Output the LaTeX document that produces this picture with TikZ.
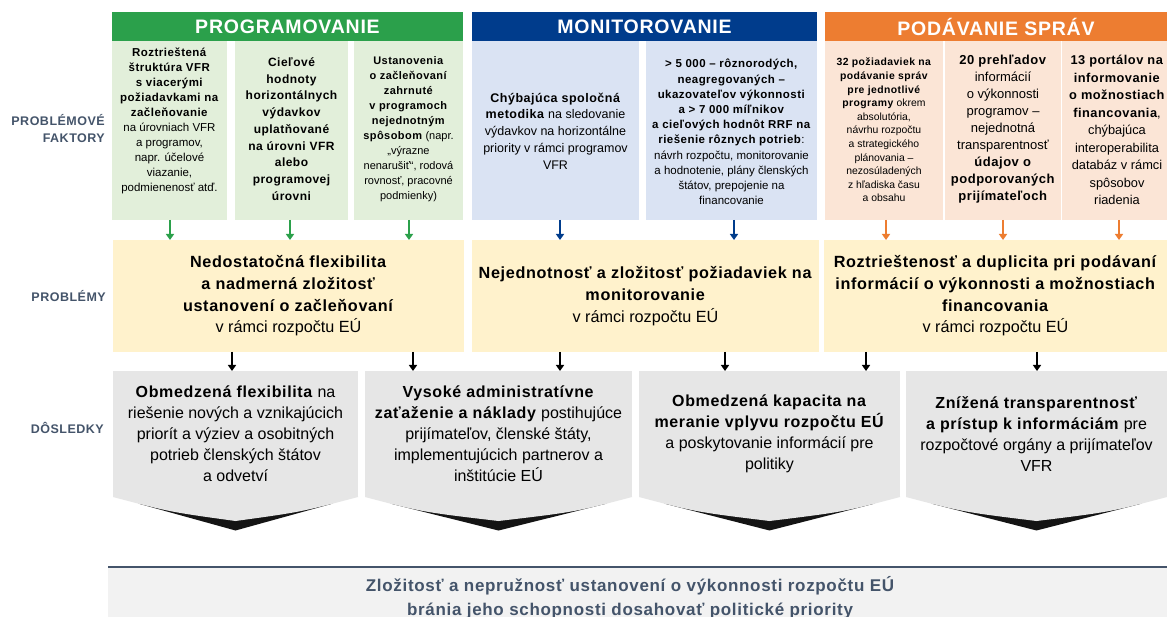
\documentclass[tikz,border=0pt]{standalone}
\usepackage{fontspec}
\setmainfont{Liberation Sans}[BoldFeatures={LetterSpace=4}]
\usetikzlibrary{arrows.meta}
\definecolor{hgreen}{HTML}{2BA04B}
\definecolor{fgreen}{HTML}{E2EFDA}
\definecolor{hblue}{HTML}{003C8C}
\definecolor{fblue}{HTML}{DAE3F3}
\definecolor{horange}{HTML}{ED7D31}
\definecolor{forange}{HTML}{FBE5D6}
\definecolor{fprob}{HTML}{FFF2CC}
\definecolor{fcons}{HTML}{E6E6E6}
\definecolor{fbottom}{HTML}{F2F2F2}
\definecolor{slate}{HTML}{44546A}
\newcommand\fsz[2]{\fontsize{#1pt}{#2pt}\selectfont}
\tikzset{
  cell/.style={inner sep=0pt, outer sep=0pt, anchor=north west, draw=none},
  hdr/.style={cell, text=white, font=\bfseries\fsz{19.5}{22}},
  txt/.style={align=center, inner sep=0pt, text=black},
  probbox/.style={cell, fill=fprob, align=center, font=\fsz{16.2}{21.7}, minimum height=112pt},
  consbox/.style={cell, fill=fcons, align=center, font=\fsz{16}{21}, minimum height=126pt},
  flowarrow/.style={line width=1.8pt, -{Triangle[width=8pt,length=6pt]}},
  lab/.style={anchor=east, align=right, inner sep=0pt, text=slate, font=\bfseries\fsz{12.5}{17}},
}
\begin{document}
\begin{tikzpicture}[x=1pt,y=-1pt]
\fill[white] (0,0) rectangle (1167,617);
\useasboundingbox (0,0) rectangle (1167,617);

% headers
\node[hdr, fill=hgreen, minimum width=351pt, minimum height=29pt] (hg) at (112,12) {PROGRAMOVANIE};
\node[hdr, fill=hblue, minimum width=345pt, minimum height=29pt] (hb) at (472,12) {MONITOROVANIE};
\node[hdr, fill=horange, minimum width=342pt, minimum height=29pt] (ho) at (825,12) {PODÁVANIE SPRÁV};

% factor boxes
\node[cell, fill=fgreen, minimum width=115pt, minimum height=179pt] (g1) at (112,41) {};
\node[cell, fill=fgreen, minimum width=113pt, minimum height=179pt] (g2) at (235,41) {};
\node[cell, fill=fgreen, minimum width=109pt, minimum height=179pt] (g3) at (354,41) {};
\node[cell, fill=fblue, minimum width=167pt, minimum height=179pt] (b1) at (472,41) {};
\node[cell, fill=fblue, minimum width=171pt, minimum height=179pt] (b2) at (646,41) {};
\node[cell, fill=forange, minimum width=118pt, minimum height=179pt] (o1) at (825,41) {};
\node[cell, fill=forange, minimum width=116pt, minimum height=179pt] (o2) at (945,41) {};
\node[cell, fill=forange, minimum width=105pt, minimum height=179pt] (o3) at (1062,41) {};

% factor texts
\node[txt, font=\fsz{11.5}{15}] (tg1) at (169.5,121) {\textbf{Roztrieštená}\\\textbf{štruktúra VFR}\\\textbf{s viacerými}\\\textbf{požiadavkami na}\\\textbf{začleňovanie}\\na úrovniach VFR\\a programov,\\napr. účelové\\viazanie,\\podmienenosť atď.};
\node[txt, font=\bfseries\fsz{12}{16.7}] (tg2) at (291.5,129) {Cieľové\\hodnoty\\horizontálnych\\výdavkov\\uplatňované\\na úrovni VFR\\alebo\\programovej\\úrovni};
\node[txt, font=\fsz{11}{15}] (tg3) at (408.5,129) {\textbf{Ustanovenia}\\\textbf{o začleňovaní}\\\textbf{zahrnuté}\\\textbf{v programoch}\\\textbf{nejednotným}\\\textbf{spôsobom} (napr.\\„výrazne\\nenarušiť“, rodová\\rovnosť, pracovné\\podmienky)};
\node[txt, font=\fsz{12.5}{16.7}] (tb1) at (555.5,131) {\textbf{Chýbajúca spoločná}\\\textbf{metodika} na sledovanie\\výdavkov na horizontálne\\priority v rámci programov\\VFR};
\node[txt, font=\fsz{11.5}{15.2}] (tb2) at (731.5,132) {\textbf{> 5 000 – rôznorodých,}\\\textbf{neagregovaných –}\\\textbf{ukazovateľov výkonnosti}\\\textbf{a > 7 000 míľnikov}\\\textbf{a cieľových hodnôt RRF na}\\\textbf{riešenie rôznych potrieb}:\\návrh rozpočtu, monitorovanie\\a hodnotenie, plány členských\\štátov, prepojenie na\\financovanie};
\node[txt, font=\fsz{10.4}{13.6}] (to1) at (884,130) {\textbf{32 požiadaviek na}\\\textbf{podávanie správ}\\\textbf{pre jednotlivé}\\\textbf{programy} okrem\\absolutória,\\návrhu rozpočtu\\a strategického\\plánovania –\\nezosúladených\\z hľadiska času\\a obsahu};
\node[txt, font=\fsz{13}{17}] (to2) at (1003,129) {\textbf{20 prehľadov}\\informácií\\o výkonnosti\\programov –\\nejednotná\\transparentnosť\\\textbf{údajov o}\\\textbf{podporovaných}\\\textbf{prijímateľoch}};
\node[txt, font=\fsz{12.8}{17.5}] (to3) at (1117,130) {\textbf{13 portálov na}\\\textbf{informovanie}\\\textbf{o možnostiach}\\\textbf{financovania},\\chýbajúca\\interoperabilita\\databáz v rámci\\spôsobov\\riadenia};

% problem boxes
\node[probbox, minimum width=351pt] (p1) at (113,240) {\textbf{Nedostatočná flexibilita}\\\textbf{a nadmerná zložitosť}\\\textbf{ustanovení o začleňovaní}\\v rámci rozpočtu EÚ};
\node[probbox, minimum width=347pt] (p2) at (472,240) {\textbf{Nejednotnosť a zložitosť požiadaviek na}\\\textbf{monitorovanie}\\v rámci rozpočtu EÚ};
\node[probbox, minimum width=343pt] (p3) at (824,240) {\textbf{Roztrieštenosť a duplicita pri podávaní}\\\textbf{informácií o výkonnosti a možnostiach}\\\textbf{financovania}\\v rámci rozpočtu EÚ};

% consequence boxes
\node[consbox, minimum width=245pt] (c1) at (113,371) {\textbf{Obmedzená flexibilita} na\\riešenie nových a vznikajúcich\\priorít a výziev a osobitných\\potrieb členských štátov\\a odvetví};
\node[consbox, minimum width=267pt] (c2) at (365,371) {\textbf{Vysoké administratívne}\\\textbf{zaťaženie a náklady} postihujúce\\prijímateľov, členské štáty,\\implementujúcich partnerov a\\inštitúcie EÚ};
\node[consbox, minimum width=261pt] (c3) at (639,371) {\textbf{Obmedzená kapacita na}\\\textbf{meranie vplyvu rozpočtu EÚ}\\a poskytovanie informácií pre\\politiky};
\node[consbox, minimum width=261pt] (c4) at (906,371) {\textbf{Znížená transparentnosť}\\\textbf{a prístup k informáciám} pre\\rozpočtové orgány a prijímateľov\\VFR};

\foreach \a/\b in {113/358,365/632,639/900,906/1167}{
  \pgfmathsetmacro\m{(\a+\b)/2}
  \fill[black!92] (\a+25,503.5) -- (\m,530.5) -- (\b-25,503.5) -- cycle;
  \fill[fcons] (\a,496.5) -- (\a,497) .. controls (\a+57,512) .. (\m,521) .. controls (\b-57,512) .. (\b,497) -- (\b,496.5) -- cycle;
}

% bottom
\node[cell, fill=fbottom, minimum width=1059pt, minimum height=50pt] (bot) at (108,567) {};
\draw[slate, line width=2.5pt] (bot.north west) -- (bot.north east);
\node[txt, text=slate, font=\bfseries\fsz{17}{23.5}] (bottxt) at (630,597.5) {Zložitosť a nepružnosť ustanovení o výkonnosti rozpočtu EÚ\\bránia jeho schopnosti dosahovať politické priority};

% left labels
\node[lab] (l1) at (105,128.5) {PROBLÉMOVÉ\\FAKTORY};
\node[lab] (l2) at (106,296) {PROBLÉMY};
\node[lab] (l3) at (104,428) {DÔSLEDKY};

% colored arrows
\draw[flowarrow, hgreen] ([xshift=0.5pt]g1.south) -- (p1.north -| 170,0);
\draw[flowarrow, hgreen] ([xshift=-1.5pt]g2.south) -- (p1.north -| 290,0);
\draw[flowarrow, hgreen] ([xshift=0.5pt]g3.south) -- (p1.north -| 409,0);
\draw[flowarrow, hblue] ([xshift=4.5pt]b1.south) -- (p2.north -| 560,0);
\draw[flowarrow, hblue] ([xshift=2.5pt]b2.south) -- (p2.north -| 734,0);
\draw[flowarrow, horange] ([xshift=2pt]o1.south) -- (p3.north -| 886,0);
\draw[flowarrow, horange] (o2.south) -- (p3.north -| 1003,0);
\draw[flowarrow, horange] ([xshift=4.5pt]o3.south) -- (p3.north -| 1119,0);

% black arrows
\draw[flowarrow, black] (p1.south -| 232,0) -- (c1.north -| 232,0);
\draw[flowarrow, black] (p1.south -| 413,0) -- (c2.north -| 413,0);
\draw[flowarrow, black] (p2.south -| 560,0) -- (c2.north -| 560,0);
\draw[flowarrow, black] (p2.south -| 725,0) -- (c3.north -| 725,0);
\draw[flowarrow, black] (p3.south -| 866,0) -- (c3.north -| 866,0);
\draw[flowarrow, black] (p3.south -| 1037,0) -- (c4.north -| 1037,0);
\end{tikzpicture}
\end{document}
